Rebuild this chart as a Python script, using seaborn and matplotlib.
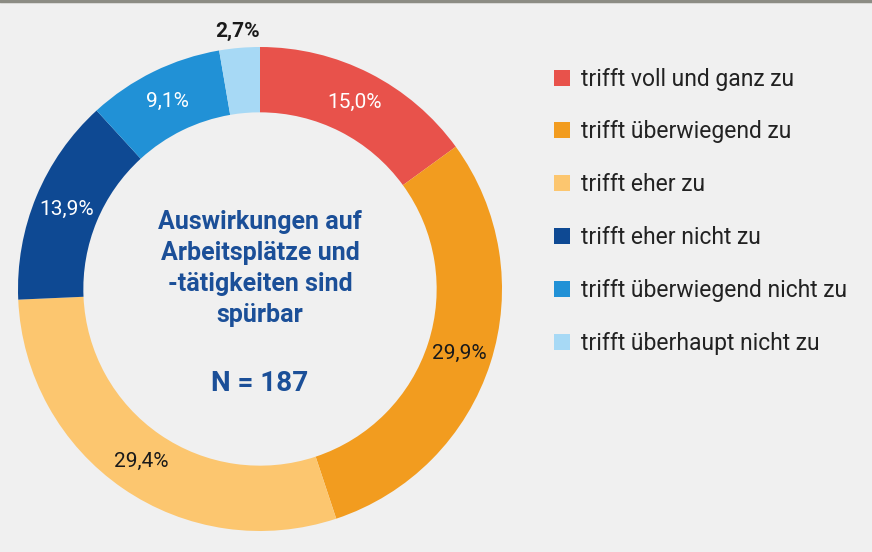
import numpy as np
import seaborn as sns
import matplotlib.pyplot as plt
from matplotlib.patches import Patch
from matplotlib.lines import Line2D

categories = ["trifft voll und ganz zu", "trifft überwiegend zu", "trifft eher zu",
              "trifft eher nicht zu", "trifft überwiegend nicht zu", "trifft überhaupt nicht zu"]
shares = [15.0, 29.9, 29.4, 13.9, 9.1, 2.7]
labels = ["15,0%", "29,9%", "29,4%", "13,9%", "9,1%", "2,7%"]
label_colors = ["white", "#1a1a1a", "#1a1a1a", "white", "white", "#1a1a1a"]
center_title = "Auswirkungen auf\nArbeitsplätze und\n-tätigkeiten sind\nspürbar"
center_n = "N = 187"

sns.set_theme(style="white")
plt.rcParams['font.family'] = ['Roboto', 'DejaVu Sans']
palette = sns.color_palette(["#e8524b", "#f29c1f", "#fcc66f", "#0e4993", "#2191d6", "#a7d9f5"])

bg = "#f0f0f0"
fig = plt.figure(figsize=(8.72, 5.52), dpi=100, facecolor=bg)
ax = fig.add_axes([18 / 872, 21 / 552, 484 / 872, 484 / 552])
ax.set_facecolor(bg)

width = 0.27
wedges, _ = ax.pie(shares, colors=palette, startangle=90, counterclock=False,
                   radius=1, wedgeprops=dict(width=width, linewidth=0))
ax.set_xlim(-1, 1)
ax.set_ylim(-1, 1)
ax.set_aspect("equal")

# percentage labels at middle of ring (last one outside)
cum = np.cumsum([0] + shares[:-1])
for i, (s, c0) in enumerate(zip(shares, cum)):
    ang = np.deg2rad(90 - (c0 + s / 2) * 3.6)
    r = 1 - width / 2
    weight = "normal"
    if i == len(shares) - 1:
        r = 1.07
        weight = "bold"
    ax.text(r * np.cos(ang), r * np.sin(ang), labels[i], ha="center", va="center",
            fontsize=15, color=label_colors[i], fontweight=weight)

ax.text(0, 0.085, center_title, ha="center", va="center", fontsize=18, fontweight="bold",
        color="#1b4f98", linespacing=1.36)
ax.text(0, -0.39, center_n, ha="center", va="center", fontsize=20, fontweight="bold",
        color="#1b4f98")

handles = [Patch(facecolor=col, edgecolor="none") for col in palette]
fig.legend(handles, categories, loc="upper left", bbox_to_anchor=(533 / 872, 1 - 47 / 552),
           frameon=False, fontsize=16.5, handlelength=0.7, handleheight=0.7,
           handletextpad=0.5, labelspacing=1.3, labelcolor="#222222")

fig.add_artist(Line2D([0, 1], [1 - 1 / 552, 1 - 1 / 552], color="#8c8c84", lw=2.5,
                      transform=fig.transFigure))

fig.savefig("out.png", dpi=100, facecolor=bg)
